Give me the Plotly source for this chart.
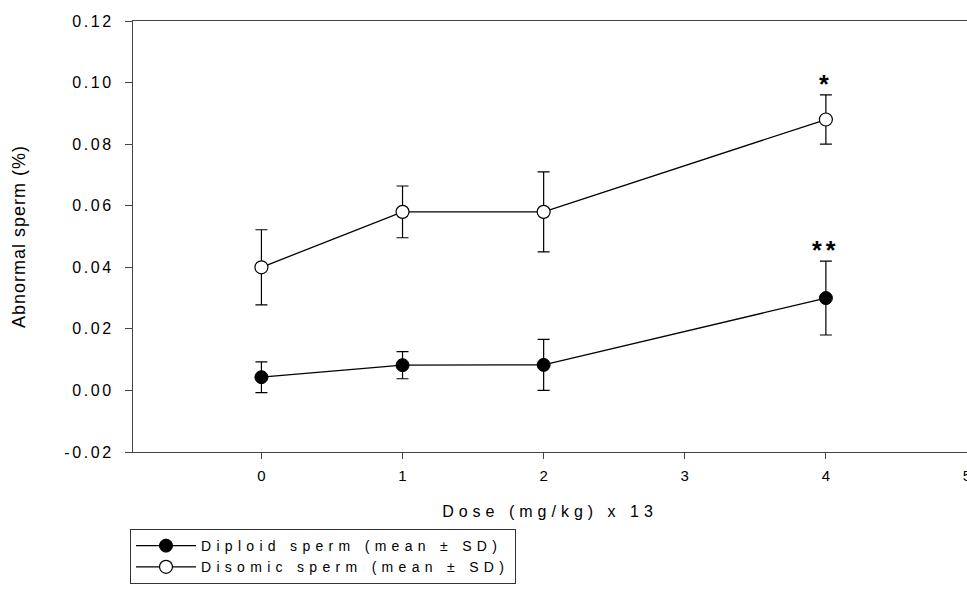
import plotly.graph_objects as go

# ---- data ----
dose = [0, 1, 2, 4]
diploid_mean = [0.0043, 0.0082, 0.0083, 0.030]
diploid_sd = [0.0050, 0.0044, 0.0083, 0.012]
disomic_mean = [0.040, 0.058, 0.058, 0.088]
disomic_sd = [0.0122, 0.0084, 0.013, 0.008]

series_names = ["Diploid sperm (mean ± SD)", "Disomic sperm (mean ± SD)"]
x_ticks = [0, 1, 2, 3, 4, 5]
y_ticks = [-0.02, 0.00, 0.02, 0.04, 0.06, 0.08, 0.10, 0.12]
y_tick_labels = ["-0.02", "0.00", "0.02", "0.04", "0.06", "0.08", "0.10", "0.12"]
sig_labels = ["**", "*"]   # at dose 4: diploid, disomic

FONT = "Liberation Sans, Arial, sans-serif"


def spaced(t, px):
    return f'<span style="letter-spacing:{px}px">{t}</span>'


fig = go.Figure()

fig.add_trace(go.Scatter(
    x=dose, y=diploid_mean, name=spaced(series_names[0], 5.3),
    mode="lines+markers",
    line=dict(color="black", width=1.3),
    marker=dict(symbol="circle", size=13, color="black",
                line=dict(color="black", width=1)),
    error_y=dict(type="data", array=diploid_sd, visible=True,
                 color="black", thickness=1.2, width=6),
))
fig.add_trace(go.Scatter(
    x=dose, y=disomic_mean, name=spaced(series_names[1], 5.3),
    mode="lines+markers",
    line=dict(color="black", width=1.3),
    marker=dict(symbol="circle", size=13, color="white",
                line=dict(color="black", width=1.2)),
    error_y=dict(type="data", array=disomic_sd, visible=True,
                 color="black", thickness=1.2, width=6),
))

# significance markers above the dose-4 error bars
for lab, m, s in [(sig_labels[0], diploid_mean, diploid_sd),
                  (sig_labels[1], disomic_mean, disomic_sd)]:
    fig.add_annotation(
        x=dose[-1], y=m[-1] + s[-1], xref="x", yref="y",
        text="<b>" + spaced(lab, 4) + "</b>", showarrow=False,
        yanchor="bottom", yshift=-5,
        font=dict(family=FONT, size=25, color="black"),
    )

fig.update_layout(
    width=967, height=592,
    margin=dict(l=133, r=0, t=21, b=140, pad=0, autoexpand=False),
    paper_bgcolor="white", plot_bgcolor="white",
    font=dict(family=FONT, color="black"),
    showlegend=True,
    legend=dict(
        x=-0.0036, y=-0.1787, xanchor="left", yanchor="top",
        bordercolor="#333", borderwidth=1, bgcolor="white",
        font=dict(family=FONT, size=14, color="black"),
        itemwidth=60, tracegroupgap=0,
    ),
)

fig.update_xaxes(
    range=[-0.91, 5.0], automargin=False,
    tickvals=x_ticks, ticktext=[str(v) for v in x_ticks],
    ticks="outside", ticklen=6, tickwidth=1, tickcolor="#444",
    ticklabelstandoff=4,
    showline=True, linecolor="#444", linewidth=1, mirror=True,
    showgrid=False, zeroline=False,
    ticklabeloverflow="allow",
    tickfont=dict(family=FONT, size=15, color="black"),
    title=dict(text=spaced("Dose (mg/kg) x 13", 5), standoff=22,
               font=dict(family=FONT, size=16, color="black")),
)
fig.update_yaxes(
    range=[-0.02, 0.12], automargin=False,
    tickvals=y_ticks, ticktext=[spaced(t, 2.6) for t in y_tick_labels],
    ticks="outside", ticklen=7, tickwidth=1, tickcolor="#444",
    ticklabelstandoff=8,
    showline=True, linecolor="#444", linewidth=1, mirror=False,
    showgrid=False, zeroline=False,
    tickfont=dict(family=FONT, size=16, color="black"),
    title=dict(text=spaced("Abnormal sperm (%)", 1), standoff=34,
               font=dict(family=FONT, size=18, color="black")),
)

fig.write_html("out.html")
